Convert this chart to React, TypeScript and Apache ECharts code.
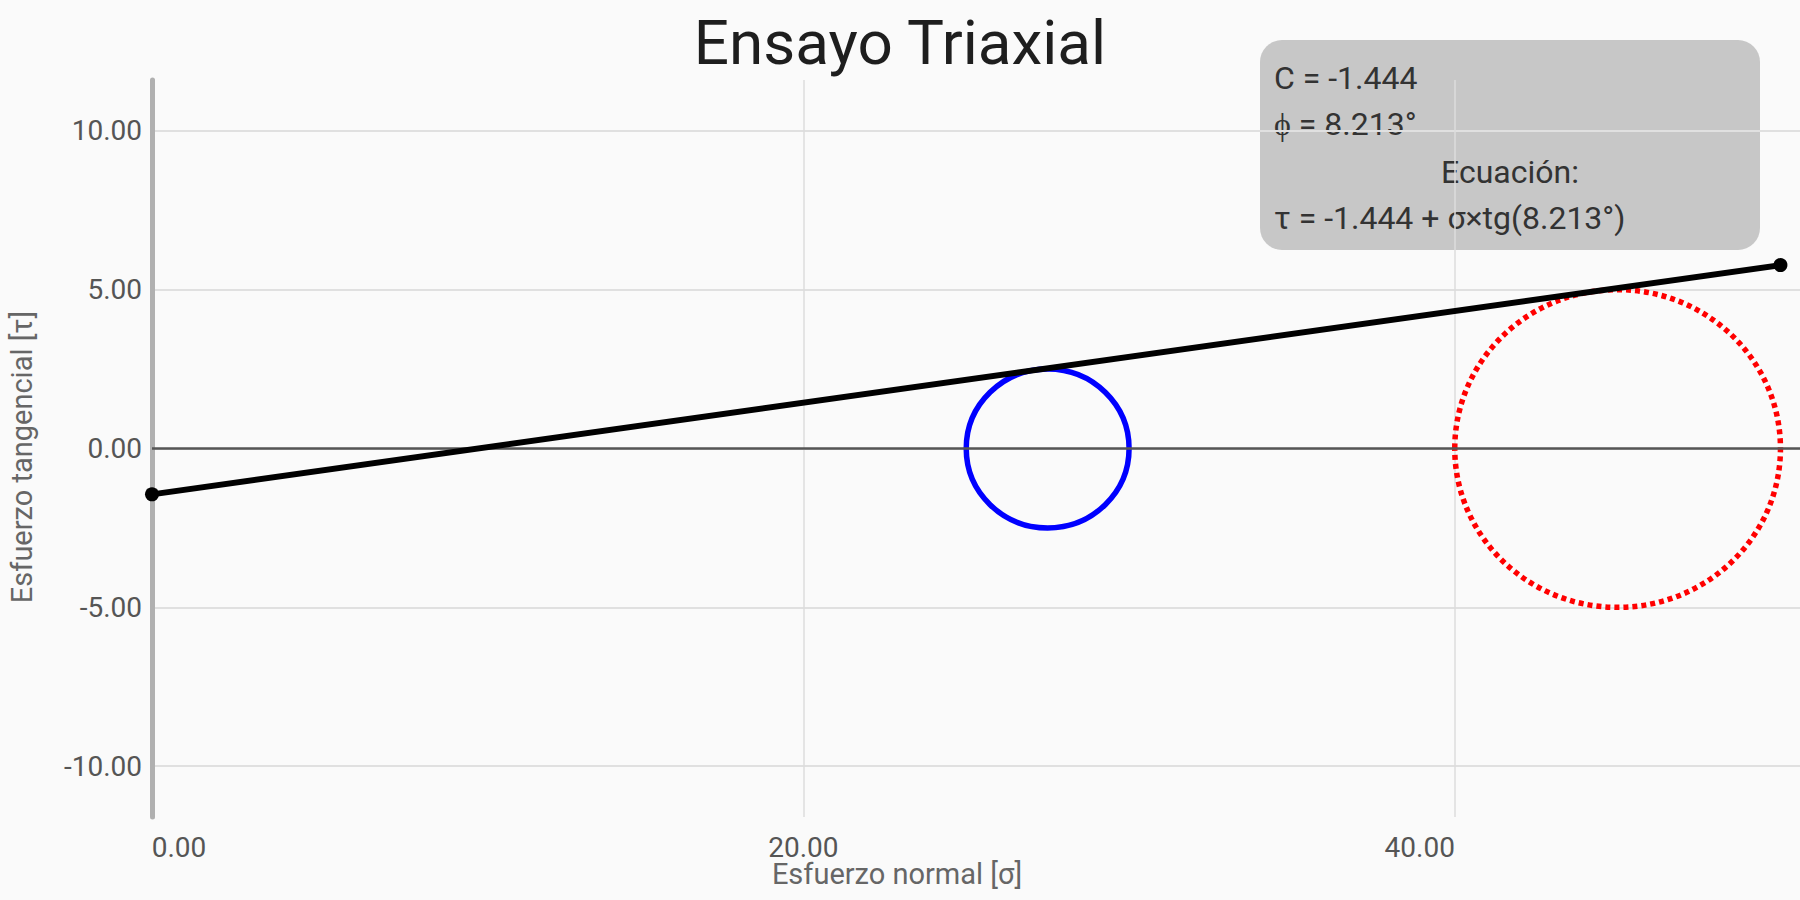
import React, { useEffect, useRef } from "react";
import * as echarts from "echarts";

// ---- data ----
const titleText = "Ensayo Triaxial";
const xAxisName = "Esfuerzo normal [σ]";
const yAxisName = "Esfuerzo tangencial [τ]";
const sigma3 = [25, 40];
const sigma1 = [30, 50];
const envelopeX = [0, 50];
const envelopeY = [-1.444, 5.773];
const cohesion = "-1.444";
const phiDeg = "8.213";
const xRange = [0, 50.6];
const yRange = [-11.6, 11.6];
const xTickStep = 20;
const xLastTick = 40;

const FONT = "Roboto";

export default function App() {
  const ref = useRef<HTMLDivElement>(null);

  useEffect(() => {
    if (!ref.current) return;
    const chart = echarts.init(ref.current, undefined, { renderer: "svg" });

    const circleData = sigma3.map((s3, i) => [(sigma1[i] + s3) / 2, (sigma1[i] - s3) / 2, 0]);
    const circleStyles = [
      { stroke: "#0000ff", lineWidth: 5.5, lineDash: null as any },
      { stroke: "#ff0000", lineWidth: 5.5, lineDash: [5, 4] },
    ];

    const option: any = {
      animation: false,
      backgroundColor: "#fafafa",
      title: {
        text: titleText,
        left: "center",
        top: 6,
        textStyle: { fontSize: 62, fontWeight: "normal", color: "#1e1e1e", fontFamily: FONT },
      },
      grid: { left: 152, right: 0, top: 80, bottom: 83, containLabel: false },
      xAxis: {
        type: "value",
        min: xRange[0],
        max: xRange[1],
        interval: xTickStep,
        axisLine: { show: false, onZero: false },
        axisTick: { show: false },
        splitLine: {
          show: true,
          showMinLine: false,
          showMaxLine: false,
          lineStyle: { color: "#dddddd", width: 1.5 },
        },
        axisLabel: {
          showMaxLabel: false,
          margin: 16,
          color: "#555",
          fontSize: 28,
          fontFamily: FONT,
          formatter: (v: number, idx: number) => {
            const t = v.toFixed(2);
            if (idx === 0) return `{l|${t}}`;
            if (v === xLastTick) return `{r|${t}}`;
            return `{c|${t}}`;
          },
          rich: {
            l: { fontSize: 28, color: "#555", fontFamily: FONT, padding: [0, 0, 0, 54] },
            c: { fontSize: 28, color: "#555", fontFamily: FONT },
            r: { fontSize: 28, color: "#555", fontFamily: FONT, padding: [0, 70, 0, 0] },
          },
        },
      },
      yAxis: {
        type: "value",
        min: yRange[0],
        max: yRange[1],
        splitNumber: 5,
        axisLine: { show: true, onZero: false, lineStyle: { color: "#b0b0b0", width: 5 } },
        axisTick: { show: false },
        splitLine: {
          show: true,
          showMinLine: false,
          showMaxLine: false,
          lineStyle: { color: "#e0e0e0", width: 2 },
        },
        axisLabel: {
          showMinLabel: false,
          showMaxLabel: false,
          margin: 10,
          color: "#555",
          fontSize: 28,
          fontFamily: FONT,
          formatter: (v: number) => v.toFixed(2),
        },
      },
      series: [
        {
          type: "line",
          name: "zero",
          data: [],
          z: 1,
          silent: true,
          markLine: {
            silent: true,
            symbol: ["none", "none"],
            label: { show: false },
            lineStyle: { color: "#555", width: 2.5, type: "solid" },
            data: [{ yAxis: 0 }],
          },
        },
        {
          type: "custom",
          name: "circles",
          z: 3,
          data: circleData,
          encode: { x: 0, y: 2 },
          renderItem: (params: any, api: any) => {
            const c = api.coord([api.value(0), 0]);
            const r = api.value(1);
            const s = api.size([r, r]);
            const st = circleStyles[params.dataIndex];
            const style: any = { fill: "none", stroke: st.stroke, lineWidth: st.lineWidth };
            if (st.lineDash) style.lineDash = st.lineDash;
            return {
              type: "ellipse",
              shape: { cx: c[0], cy: c[1], rx: s[0], ry: s[1] },
              style,
            };
          },
        },
        {
          type: "line",
          name: "envolvente",
          z: 5,
          data: envelopeX.map((x, i) => [x, envelopeY[i]]),
          symbol: "circle",
          symbolSize: 14,
          showSymbol: true,
          itemStyle: { color: "#000" },
          lineStyle: { color: "#000", width: 6 },
        },
      ],
      graphic: [
        {
          type: "text",
          x: 22,
          y: 457,
          rotation: Math.PI / 2,
          style: {
            text: yAxisName,
            fontSize: 29,
            fontFamily: FONT,
            fill: "#666",
            align: "center",
            verticalAlign: "middle",
          },
        },
        {
          type: "text",
          x: 897,
          y: 874,
          style: {
            text: xAxisName,
            fontSize: 29,
            fontFamily: FONT,
            fill: "#666",
            align: "center",
            verticalAlign: "middle",
          },
        },
        {
          type: "group",
          x: 1260,
          y: 40,
          z: 100,
          children: [
            {
              type: "rect",
              shape: { x: 0, y: 0, width: 500, height: 210, r: 22 },
              style: { fill: "rgba(140,140,140,0.46)" },
            },
            {
              type: "text",
              x: 14,
              y: 38,
              style: { text: `C = ${cohesion}`, fontSize: 32, fontFamily: FONT, fill: "#333", align: "left", verticalAlign: "middle" },
            },
            {
              type: "text",
              x: 14,
              y: 84,
              style: { text: `ϕ = ${phiDeg}°`, fontSize: 32, fontFamily: FONT, fill: "#333", align: "left", verticalAlign: "middle" },
            },
            {
              type: "text",
              x: 250,
              y: 132,
              style: { text: "Ecuación:", fontSize: 32, fontFamily: FONT, fill: "#333", align: "center", verticalAlign: "middle" },
            },
            {
              type: "text",
              x: 14,
              y: 178,
              style: {
                text: `τ = ${cohesion} + σ×tg(${phiDeg}°)`,
                fontSize: 32,
                fontFamily: FONT,
                fill: "#333",
                align: "left",
                verticalAlign: "middle",
              },
            },
          ],
        },
      ],
    };

    chart.setOption(option);
    return () => chart.dispose();
  }, []);

  return (
    <div
      ref={ref}
      style={{ position: "absolute", left: 0, top: 0, width: 1800, height: 900 }}
    />
  );
}
